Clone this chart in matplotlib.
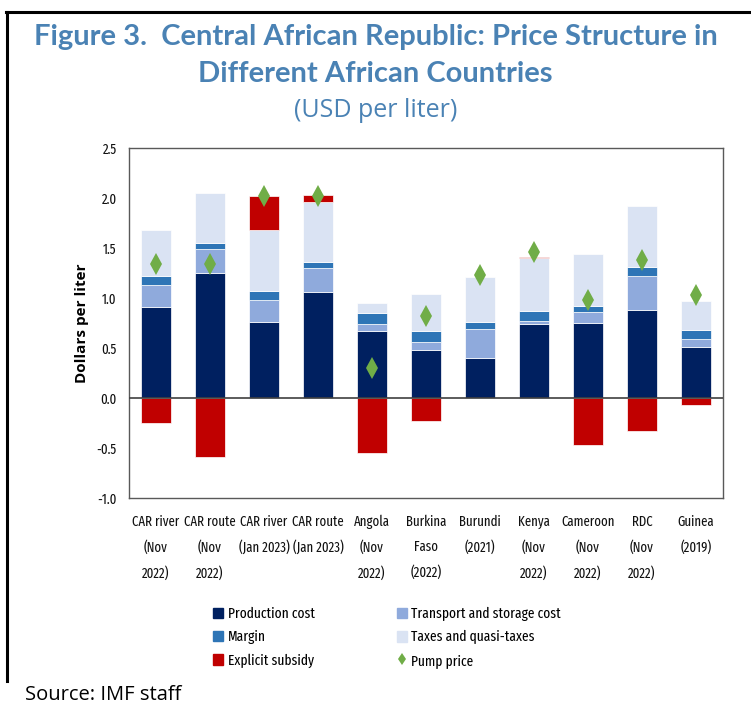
import matplotlib.pyplot as plt
import numpy as np
from matplotlib.lines import Line2D
from matplotlib.patches import Patch

# data (USD per liter)
countries = ['CAR river\n(Nov\n2022)', 'CAR route\n(Nov\n2022)', 'CAR river\n(Jan 2023)',
             'CAR route\n(Jan 2023)', 'Angola\n(Nov\n2022)', 'Burkina\nFaso\n(2022)',
             'Burundi\n(2021)', 'Kenya\n(Nov\n2022)', 'Cameroon\n(Nov\n2022)',
             'RDC\n(Nov\n2022)', 'Guinea\n(2019)']
production = [0.91, 1.25, 0.76, 1.06, 0.67, 0.48, 0.40, 0.74, 0.75, 0.88, 0.51]
transport = [0.22, 0.24, 0.22, 0.24, 0.07, 0.08, 0.29, 0.03, 0.11, 0.34, 0.08]
margin = [0.09, 0.06, 0.09, 0.06, 0.11, 0.11, 0.07, 0.10, 0.06, 0.09, 0.09]
taxes = [0.46, 0.50, 0.61, 0.60, 0.10, 0.37, 0.45, 0.53, 0.52, 0.61, 0.29]
subsidy = [-0.25, -0.59, 0.34, 0.07, -0.55, -0.23, 0.0, 0.01, -0.47, -0.33, -0.07]
pump = [1.34, 1.34, 2.02, 2.02, 0.30, 0.82, 1.23, 1.46, 0.98, 1.38, 1.03]

c_prod = '#002060'
c_trans = '#8FAADC'
c_margin = '#2E75B6'
c_tax = '#DAE3F3'
c_sub = '#C00000'
c_pump = '#70AD47'
title_col = '#4A82B4'
narrow = ['Fira Sans Extra Condensed', 'DejaVu Sans']

fig = plt.figure(figsize=(7.51, 7.06), dpi=100)
ax = fig.add_axes([0.1718, 0.2946, 0.791, 0.4958])

x = np.arange(len(countries))
w = 0.56
prod = np.array(production)
tr = np.array(transport)
mg = np.array(margin)
tx = np.array(taxes)
sb = np.array(subsidy)

kw = dict(width=w, edgecolor='white', linewidth=0.5)
ax.bar(x, prod, color=c_prod, **kw)
ax.bar(x, tr, bottom=prod, color=c_trans, **kw)
ax.bar(x, mg, bottom=prod + tr, color=c_margin, **kw)
ax.bar(x, tx, bottom=prod + tr + mg, color=c_tax, **kw)
# positive subsidy stacks on top, negative goes below zero
top = prod + tr + mg + tx
sub_bottom = np.where(sb > 0, top, 0)
ax.bar(x, sb, bottom=sub_bottom, color=c_sub, **kw)
ax.plot(x, pump, marker='d', ls='none', markersize=11, color=c_pump, markeredgewidth=0, zorder=5)

ax.axhline(0, color='#404040', lw=1.2, zorder=4)
ax.set_xlim(-0.5, len(countries) - 0.5)
ax.set_ylim(-1.0, 2.5)
ax.set_yticks(np.arange(-1.0, 2.51, 0.5))
ax.set_yticklabels(['%.1f' % v for v in np.arange(-1.0, 2.51, 0.5)])
ax.set_xticks(x)
ax.set_xticklabels(countries, linespacing=1.95, va='top')
ax.tick_params(axis='both', length=0, labelsize=10, labelcolor='#111111')
ax.tick_params(axis='x', pad=12)
ax.tick_params(axis='y', pad=9)
for lab in ax.get_xticklabels() + ax.get_yticklabels():
    lab.set_family(narrow)
for s in ax.spines.values():
    s.set_color('#595959')
    s.set_linewidth(1)

ax.set_ylabel('Dollars per liter', fontsize=11, fontweight='bold', family='Open Sans', labelpad=5)

fig.text(0.5, 0.948, 'Figure 3.  Central African Republic: Price Structure in',
         ha='center', va='center', fontsize=21, fontweight='bold', color=title_col, family='Lato')
fig.text(0.5, 0.895, 'Different African Countries',
         ha='center', va='center', fontsize=21, fontweight='bold', color=title_col, family='Lato')
fig.text(0.5, 0.844, '(USD per liter)', ha='center', va='center', fontsize=18,
         color=title_col, family='Open Sans')

handles = [Patch(color=c_prod, label='Production cost'),
           Patch(color=c_margin, label='Margin'),
           Patch(color=c_sub, label='Explicit subsidy'),
           Patch(color=c_trans, label='Transport and storage cost'),
           Patch(color=c_tax, label='Taxes and quasi-taxes'),
           Line2D([], [], marker='d', color=c_pump, ls='none', markersize=6, markeredgewidth=0,
                  label='Pump price')]
leg = fig.legend(handles=handles, ncol=2, loc='upper left', bbox_to_anchor=(0.284, 0.140),
                 frameon=False, handlelength=0.7, handleheight=0.7, handletextpad=0.3,
                 columnspacing=5.6, labelspacing=0.6, borderpad=0, borderaxespad=0,
                 prop={'family': narrow, 'size': 10.5})

fig.text(0.033, 0.015, 'Source: IMF staff', ha='left', va='center', fontsize=14.5, family='Open Sans')

# page border lines (top and left)
fig.add_artist(Line2D([0.008, 1.0], [0.983, 0.983], color='black', lw=2.2, transform=fig.transFigure))
fig.add_artist(Line2D([0.009, 0.009], [0.983, 0.035], color='black', lw=2.2, transform=fig.transFigure))

fig.savefig('out.png', dpi=100)
